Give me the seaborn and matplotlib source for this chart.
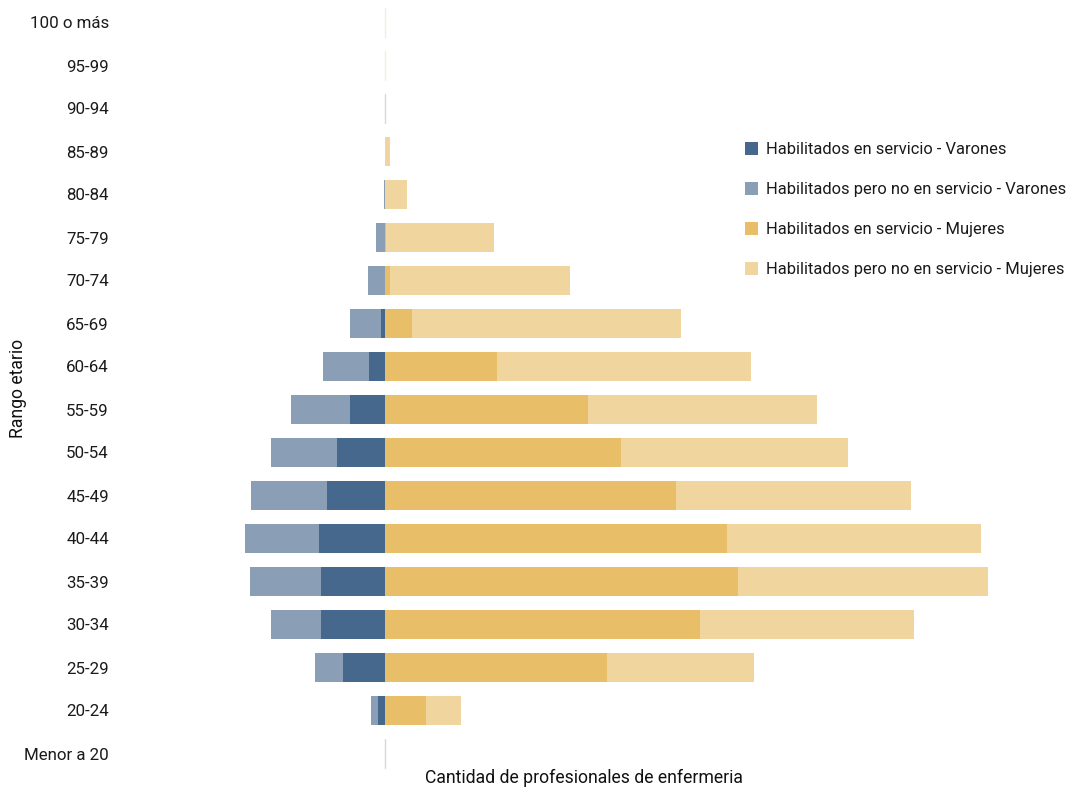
import matplotlib
matplotlib.use("Agg")
import matplotlib.pyplot as plt
import seaborn as sns
import pandas as pd
import numpy as np
from matplotlib.patches import Patch

rangos = ["100 o más", "95-99", "90-94", "85-89", "80-84", "75-79", "70-74", "65-69",
          "60-64", "55-59", "50-54", "45-49", "40-44", "35-39", "30-34", "25-29",
          "20-24", "Menor a 20"]
varones_servicio    = [0, 0, 0, 0, 0, 0, 5, 40, 160, 350, 480, 580, 660, 640, 640, 420, 70, 0]
varones_no_servicio = [0, 0, 5, 0, 10, 90, 170, 310, 460, 590, 660, 760, 740, 710, 500, 280, 70, 5]
mujeres_servicio    = [0, 0, 0, 0, 0, 5, 50, 270, 1120, 2030, 2360, 2910, 3420, 3530, 3150, 2220, 410, 0]
mujeres_no_servicio = [5, 5, 0, 50, 220, 1080, 1800, 2690, 2540, 2290, 2270, 2350, 2540, 2500, 2140, 1470, 350, 0]

labels = ["Habilitados en servicio - Varones",
          "Habilitados pero no en servicio - Varones",
          "Habilitados en servicio - Mujeres",
          "Habilitados pero no en servicio - Mujeres"]
colors = ["#47688D", "#8A9EB6", "#E8BE69", "#F0D59E"]

sns.set_theme(style="white")
plt.rcParams["font.family"] = ["Roboto", "DejaVu Sans"]

df = pd.DataFrame({
    "rango": rangos,
    "v_tot": -(np.array(varones_servicio) + np.array(varones_no_servicio)),
    "v_serv": -np.array(varones_servicio),
    "m_tot": np.array(mujeres_servicio) + np.array(mujeres_no_servicio),
    "m_serv": np.array(mujeres_servicio),
})

fig = plt.figure(figsize=(10.73, 7.90), dpi=100)
ax = fig.add_axes([120/1073, 1 - 775/790, (1048-120)/1073, 774/790])

w = 0.66
sns.barplot(data=df, y="rango", x="v_tot", color=colors[1], width=w, ax=ax, orient="h",
            saturation=1, edgecolor="none", order=rangos)
sns.barplot(data=df, y="rango", x="v_serv", color=colors[0], width=w, ax=ax, orient="h",
            saturation=1, edgecolor="none", order=rangos)
sns.barplot(data=df, y="rango", x="m_tot", color=colors[3], width=w, ax=ax, orient="h",
            saturation=1, edgecolor="none", order=rangos)
sns.barplot(data=df, y="rango", x="m_serv", color=colors[2], width=w, ax=ax, orient="h",
            saturation=1, edgecolor="none", order=rangos)

# faint zero line where bars are empty
for i, c in [(0, "#F5ECDA"), (1, "#F5ECDA"), (2, "#DDD8CF"), (17, "#DDD8CF")]:
    ax.plot([0, 0], [i - w/2, i + w/2], color=c, lw=1, zorder=1)

ax.set_xlim(-2650, 6630)
ax.set_ylim(17.5, -0.5)
ax.set_xticks([])
ax.tick_params(axis="y", length=0, pad=8, labelsize=12.2, labelcolor="#1a1a1a")
for s in ax.spines.values():
    s.set_visible(False)

ax.set_ylabel("Rango etario", fontsize=12.7, color="#111111")
ax.yaxis.set_label_coords(-0.1, 0.5)
ax.set_xlabel("Cantidad de profesionales de enfermeria", fontsize=12.7, color="#111111")
ax.xaxis.set_label_coords(0.5, -0.004)
ax.xaxis.label.set_va("center")

handles = [Patch(facecolor=c, edgecolor="none") for c in colors]
leg = ax.legend(handles, labels, loc="upper left", bbox_to_anchor=(0.6665, 0.826),
                frameon=False, fontsize=11.9, handlelength=0.8, handleheight=0.8,
                handletextpad=0.45, labelspacing=1.5, borderaxespad=0)
for t in leg.get_texts():
    t.set_color("#1a1a1a")

fig.savefig("out.png", dpi=100)
